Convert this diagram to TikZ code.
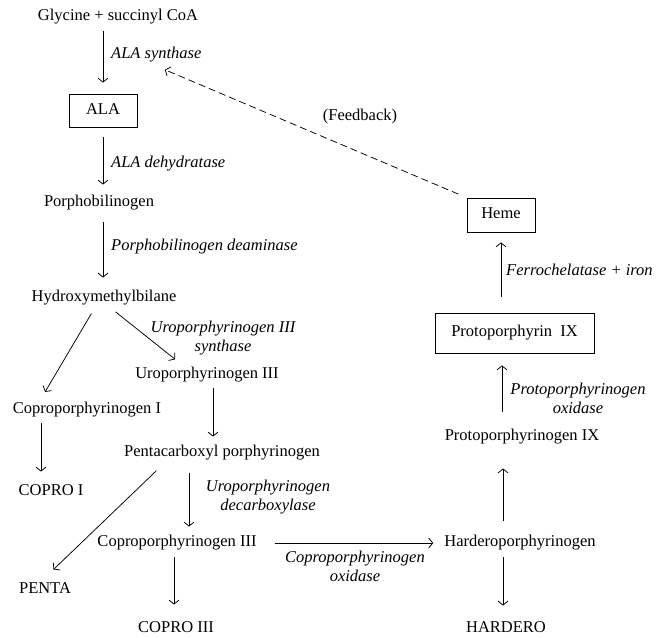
\documentclass[tikz,border=0pt]{standalone}
\usepackage{fontspec}
\setmainfont{Liberation Serif}
\usetikzlibrary{arrows.meta}
\usetikzlibrary{calc}

\begin{document}
\begin{tikzpicture}[x=1pt, y=-1pt, font=\fontsize{16.5}{19}\selectfont,
    mol/.style={inner sep=2pt, text height=11pt, text depth=3.5pt},
    boxed/.style={mol, draw, line width=0.75pt, minimum height=33pt},
    enz/.style={inner sep=0pt, font=\fontsize{16.5}{19}\selectfont\itshape, align=center},
    arr/.style={-{Straight Barb[length=4pt, width=10pt]}, line width=0.75pt, shorten <=6pt, shorten >=10pt}]
      \useasboundingbox (0,0) rectangle (665,638);

      % left branch
      \node[mol] (gly) at (118, 17) {Glycine + succinyl CoA};
      \node[boxed, minimum width=68pt] (ala) at (103, 110.5) {ALA};
      \node[mol] (pbg) at (99, 203) {Porphobilinogen};
      \node[mol] (hmb) at (104, 298) {Hydroxymethylbilane};
      \node[mol] (uro) at (207, 375) {Uroporphyrinogen III};
      \node[mol] (copI) at (87, 410) {Coproporphyrinogen I};
      \node[mol] (coproI) at (51, 492) {COPRO I};
      \node[mol] (penta) at (222, 453) {Pentacarboxyl porphyrinogen};
      \node[mol] (pentaend) at (45, 590) {PENTA};
      \node[mol] (copIII) at (177, 543) {Coproporphyrinogen III};
      \node[mol] (coproIII) at (176, 629) {COPRO III};

      % right branch
      \node[mol] (hard) at (520, 543) {Harderoporphyrinogen};
      \node[mol] (hardend) at (506, 629) {HARDERO};
      \node[mol] (protogen) at (522, 437) {Protoporphyrinogen IX};
      \node[boxed, minimum width=159pt, minimum height=40pt] (proto) at (514.5, 333) {Protoporphyrin\ \ IX};
      \node[boxed, minimum width=68pt, minimum height=34pt] (heme) at (501, 215) {Heme};

      % enzymes
      \node[enz, anchor=west] (synth) at (111, 55) {ALA synthase};
      \node[enz, anchor=west] (dehyd) at (111, 164) {ALA dehydratase};
      \node[enz, anchor=west] (deam) at (111, 247) {Porphobilinogen deaminase};
      \node[enz] (urosyn) at (223, 338.5) {Uroporphyrinogen III\\synthase};
      \node[enz] (decarb) at (268, 497) {Uroporphyrinogen\\decarboxylase};
      \node[enz] (coprox) at (355, 566) {Coproporphyrinogen\\oxidase};
      \node[enz] (protox) at (578, 398) {Protoporphyrinogen\\oxidase};
      \node[enz, anchor=west] (ferro) at (506, 270) {Ferrochelatase + iron};
      \node[inner sep=0pt] (fb) at (360, 117) {(Feedback)};

      \draw[arr, shorten <=5pt, shorten >=11pt] (ala.north |- gly.south) -- (ala.north);
      \draw[arr, shorten <=10pt, shorten >=9pt] (ala.south) -- (ala.south |- pbg.north);
      \draw[arr, shorten <=10pt, shorten >=11pt] (ala.south |- pbg.south) -- (ala.south |- hmb.north);
      \draw[arr, shorten <=7pt, shorten >=10pt] ([xshift=-9]hmb.south) -- ([xshift=-47]copI.north);
      \draw[arr, shorten <=7pt, shorten >=10pt] ([xshift=6]hmb.south) -- ([xshift=-24]uro.north);
      \draw[arr, shorten <=4pt, shorten >=7pt] ([xshift=6]uro.south) -- ([xshift=-9]penta.north);
      \draw[arr, shorten <=4pt, shorten >=11pt] ([xshift=-46]copI.south) -- ([xshift=-10]coproI.north);
      \draw[arr, shorten <=11pt, shorten >=7pt] ([xshift=-33]penta.south) -- ([xshift=12]copIII.north);
      \draw[arr, shorten <=12pt, shorten >=16pt] ([xshift=-57]penta.south) -- ([xshift=-3]pentaend.north);
      \draw[arr, shorten <=5pt, shorten >=15pt] ([xshift=-3]copIII.south) -- ([xshift=-2]coproIII.north);
      \draw[arr, shorten <=16pt, shorten >=9pt] (copIII.east) -- (hard.west);
      \draw[arr, shorten <=5pt, shorten >=14pt] ([xshift=-17]hard.south) -- ([xshift=-3]hardend.north);
      \draw[arr, shorten <=13pt, shorten >=22pt] ([xshift=-17]hard.north) -- ([xshift=-19]protogen.south);
      \draw[arr, shorten <=16pt, shorten >=12pt] ([xshift=-20]protogen.north) -- ([xshift=-12.5]proto.south);
      \draw[arr, shorten <=16pt, shorten >=10pt] ([xshift=-13.5]proto.north) -- (heme.south);
      \draw[arr, dash pattern=on 7pt off 4pt, shorten <=9pt, shorten >=18pt] (heme.north west) -- ([xshift=-8]synth.south);
\end{tikzpicture}
\end{document}
